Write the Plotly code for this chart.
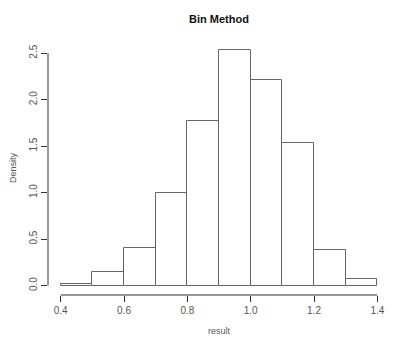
import plotly.graph_objects as go

# histogram bins (density scale)
bin_left = [0.4, 0.5, 0.6, 0.7, 0.8, 0.9, 1.0, 1.1, 1.2, 1.3]
density = [0.02, 0.15, 0.40, 1.00, 1.77, 2.53, 2.21, 1.53, 0.38, 0.075]
x_ticks = [0.4, 0.6, 0.8, 1.0, 1.2, 1.4]
y_ticks = [0.0, 0.5, 1.0, 1.5, 2.0, 2.5]

bin_width = 0.1
mids = [b + bin_width / 2 for b in bin_left]

font = "Liberation Sans, Arial, Helvetica, sans-serif"
ax_col = "#333333"

fig = go.Figure(go.Bar(x=mids, y=density, width=bin_width,
                       marker=dict(color="white", line=dict(color="#666666", width=1))))

# R style: 4% padding around the data range
xpad = (x_ticks[-1] - x_ticks[0]) * 0.04
ymax = max(density)
ypad = ymax * 0.04

# page body has an 8px margin, so the figure is a bit smaller than the window
W, H = 407, 338

fig.update_layout(
    width=W, height=H,
    margin=dict(l=40, r=25, t=33, b=51),
    paper_bgcolor="white", plot_bgcolor="white",
    showlegend=False, bargap=0,
    font=dict(family=font, size=10, color="#555555"),
    title=dict(text="<b>Bin Method</b>", x=0.5, xref="paper", xanchor="center",
               y=1 - 11 / H, yref="container", yanchor="middle",
               font=dict(size=11, color="#111111")),
    xaxis=dict(range=[x_ticks[0] - xpad, x_ticks[-1] + xpad], automargin=False,
               tickvals=x_ticks, ticktext=["%.1f" % v for v in x_ticks],
               ticks="outside", ticklen=6, tickcolor=ax_col,
               showgrid=False, zeroline=False, showline=False,
               title=dict(text="result", standoff=12, font=dict(size=9))),
    yaxis=dict(range=[-ypad, ymax + ypad], automargin=False,
               tickvals=y_ticks, ticktext=["%.1f" % v for v in y_ticks],
               tickangle=-90, ticks="outside", ticklen=6, tickcolor=ax_col,
               showgrid=False, zeroline=False, showline=False,
               title=dict(text="Density", standoff=10, font=dict(size=9))),
)

# axis lines only span the tick range, like base R
fig.add_shape(type="line", xref="x", yref="paper", x0=x_ticks[0], x1=x_ticks[-1],
              y0=0, y1=0, line=dict(color=ax_col, width=1))
fig.add_shape(type="line", xref="paper", yref="y", x0=0, x1=0,
              y0=y_ticks[0], y1=y_ticks[-1], line=dict(color=ax_col, width=1))

fig.write_html("out.html")
